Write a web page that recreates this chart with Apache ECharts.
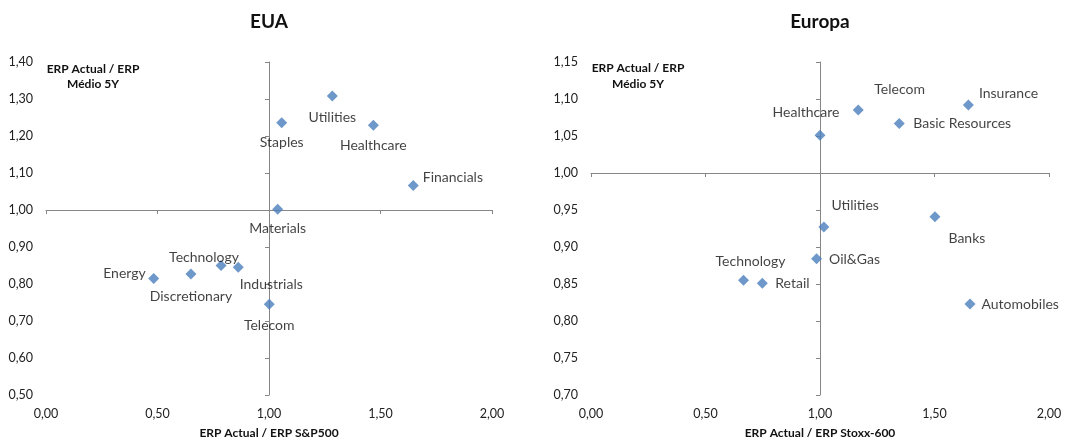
<!DOCTYPE html>
<html>
<head>
<meta charset="utf-8">
<script src="https://cdn.jsdelivr.net/npm/echarts@6/dist/echarts.min.js"></script>
<style>
html,body{margin:0;padding:0;background:#fff;}
#c{width:1068px;height:440px;}
</style>
</head>
<body>
<div id="c"></div>
<script>
// ---- Data: EUA ----
const euaNames = ['Energy','Discretionary','Technology','Industrials','Telecom','Materials','Staples','Utilities','Healthcare','Financials'];
const euaX = [0.483, 0.650, 0.785, 0.862, 1.001, 1.039, 1.057, 1.284, 1.468, 1.647];
const euaY = [0.815, 0.827, 0.850, 0.845, 0.745, 1.002, 1.236, 1.308, 1.229, 1.066];

// ---- Data: Europa ----
const euNames = ['Technology','Retail','Oil&Gas','Healthcare','Utilities','Telecom','Basic Resources','Banks','Insurance','Automobiles'];
const euX = [0.666, 0.748, 0.985, 1.000, 1.017, 1.167, 1.346, 1.502, 1.648, 1.655];
const euY = [0.855, 0.851, 0.884, 1.051, 0.927, 1.085, 1.067, 0.941, 1.092, 0.823];

// ---- Axis ranges / titles ----
const titles = ['EUA', 'Europa'];
const xAxisTitles = ['ERP Actual / ERP S&P500', 'ERP Actual / ERP Stoxx-600'];
const yAxisTitle = ['ERP Actual / ERP', 'Médio 5Y'];
const xRange = [0, 2, 0.5];
const yRangeEUA = [0.5, 1.4, 0.1];
const yRangeEU = [0.7, 1.15, 0.05];
const crossAt = [1, 1];

// ---- Label placement (style only) ----
const placeEUA = {
  'Energy': {position:'left', distance:2.5, offset:[0,-5]},
  'Discretionary': {position:'inside', offset:[0,22]},
  'Technology': {position:'inside', offset:[-17,-8]},
  'Industrials': {position:'inside', offset:[33,17]},
  'Telecom': {position:'inside', offset:[0,21]},
  'Materials': {position:'inside', offset:[0,19]},
  'Staples': {position:'inside', offset:[0,20]},
  'Utilities': {position:'inside', offset:[0,21]},
  'Healthcare': {position:'inside', offset:[0,20]},
  'Financials': {position:'right', distance:4, offset:[0,-8]}
};
const placeEU = {
  'Technology': {position:'inside', offset:[7,-19]},
  'Retail': {position:'right', distance:7.5, offset:[0,0]},
  'Oil&Gas': {position:'right', distance:7, offset:[0,1]},
  'Healthcare': {position:'inside', offset:[-14,-23]},
  'Utilities': {position:'right', distance:2, offset:[0,-22]},
  'Telecom': {position:'right', distance:10.5, offset:[0,-21]},
  'Basic Resources': {position:'right', distance:8.5, offset:[0,0.5]},
  'Banks': {position:'right', distance:8, offset:[0,21.5]},
  'Insurance': {position:'right', distance:5, offset:[0,-11]},
  'Automobiles': {position:'right', distance:6, offset:[0,1]}
};

const FONT = 'Lato, "Open Sans", sans-serif';
const AXIS_GRAY = '#868686';
const MARK = '#4A7EBB';
const fmt = v => v.toFixed(2).replace('.', ',');

function buildData(names, xs, ys, place) {
  return names.map((n, i) => ({
    name: n,
    value: [xs[i], ys[i]],
    label: Object.assign({show:true, formatter:'{b}', color:'#111', fontSize:14, fontFamily:FONT}, place[n])
  }));
}

const grids = [
  {left:46, top:62, width:446, height:333},
  {left:591, top:62, width:458, height:333}
];

function primaryX(gi) {
  return {
    type:'value', gridIndex:gi, min:xRange[0], max:xRange[1], interval:xRange[2], position:'bottom',
    axisLine:{show:false, onZero:false}, axisTick:{show:false}, splitLine:{show:false},
    axisLabel:{formatter:fmt, color:'#222', fontSize:12.5, fontFamily:FONT, margin:12}
  };
}
function primaryY(gi, r) {
  return {
    type:'value', gridIndex:gi, min:r[0], max:r[1], interval:r[2], position:'left',
    axisLine:{show:false, onZero:false}, axisTick:{show:false}, splitLine:{show:false},
    axisLabel:{formatter:fmt, color:'#222', fontSize:12.5, fontFamily:FONT, margin:13}
  };
}
// secondary axes shifted so that their zero is at the crossing value
function crossX(gi, otherIdx) {
  return {
    type:'value', gridIndex:gi, min:xRange[0]-crossAt[0], max:xRange[1]-crossAt[0], interval:xRange[2], position:'bottom',
    axisLine:{show:true, onZero:true, onZeroAxisIndex:otherIdx, lineStyle:{color:AXIS_GRAY, width:1}},
    axisTick:{show:true, length:4, lineStyle:{color:AXIS_GRAY}}, axisLabel:{show:false}, splitLine:{show:false}
  };
}
function crossY(gi, r, otherIdx) {
  return {
    type:'value', gridIndex:gi, min:r[0]-crossAt[1], max:r[1]-crossAt[1], interval:r[2], position:'left',
    axisLine:{show:true, onZero:true, onZeroAxisIndex:otherIdx, lineStyle:{color:AXIS_GRAY, width:1}},
    axisTick:{show:true, length:4, lineStyle:{color:AXIS_GRAY}}, axisLabel:{show:false}, splitLine:{show:false}
  };
}

const chart = echarts.init(document.getElementById('c'));

function textEl(x, y, text, size, bold) {
  return {type:'text', x:x, y:y, style:{text:text, textAlign:'center', textVerticalAlign:'middle',
    font:(bold?'bold ':'') + size + 'px ' + FONT, fill:'#111'}};
}

chart.setOption({
  animation:false,
  grid:grids,
  xAxis:[primaryX(0), crossX(0, 1), primaryX(1), crossX(1, 3)],
  yAxis:[primaryY(0, yRangeEUA), crossY(0, yRangeEUA, 1), primaryY(1, yRangeEU), crossY(1, yRangeEU, 3)],
  series:[
    {type:'scatter', xAxisIndex:0, yAxisIndex:0, symbol:'diamond', symbolSize:11,
     itemStyle:{color:MARK}, data:buildData(euaNames, euaX, euaY, placeEUA)},
    {type:'scatter', xAxisIndex:2, yAxisIndex:2, symbol:'diamond', symbolSize:11,
     itemStyle:{color:MARK}, data:buildData(euNames, euX, euY, placeEU)}
  ],
  graphic:[
    textEl(269, 22, titles[0], 19, true),
    textEl(820, 22, titles[1], 19, true),
    textEl(93, 69.5, yAxisTitle[0], 12, true),
    textEl(93, 84.5, yAxisTitle[1], 12, true),
    textEl(638, 68, yAxisTitle[0], 12, true),
    textEl(638, 84.5, yAxisTitle[1], 12, true),
    textEl(269, 433, xAxisTitles[0], 12, true),
    textEl(820, 433, xAxisTitles[1], 12, true)
  ]
});
</script>
</body>
</html>
